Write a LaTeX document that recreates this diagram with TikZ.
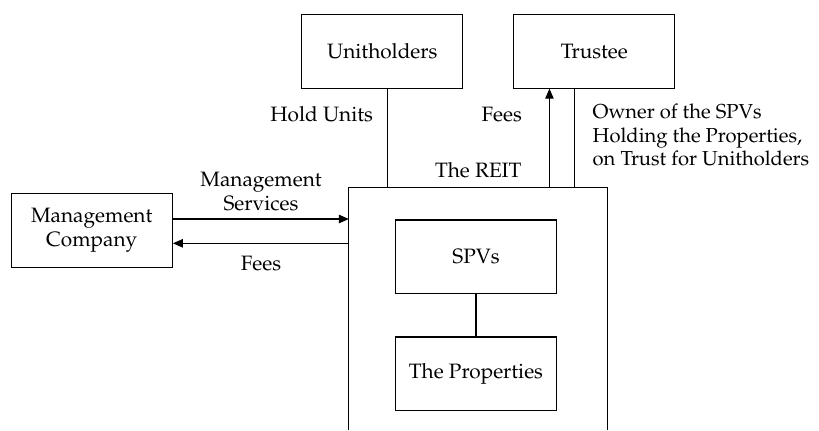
\documentclass[tikz,border=0pt]{standalone}
\usepackage[T1]{fontenc}
\usepackage{mathpazo}
\usetikzlibrary{arrows.meta,calc}
\tikzset{
  box/.style={draw, line width=0.55pt, minimum width=80.6pt, minimum height=36.8pt, inner sep=0pt, align=center},
  lbl/.style={inner sep=0pt, align=center},
  conn/.style={line width=0.55pt},
  arr/.style={line width=0.55pt, -{Triangle[length=5pt,width=4.2pt]}}
}
\begin{document}
\begin{tikzpicture}[x=0.5pt,y=-0.5pt,font=\fontsize{10.4}{11.8}\selectfont]
\useasboundingbox (0,0) rectangle (819,430);
\node[box] (unit) at (382.3,51.3) {Unitholders};
\node[box] (trust) at (594.3,51.3) {Trustee};
\node[box] (mc) at (91.7,230.3) {Management\\Company};
\node[inner sep=0pt, minimum width=129pt, minimum height=121.15pt] (reit) at (478.3,308.85) {};
\draw[conn] (reit.south west) -- (reit.north west) -- (reit.north east) -- (reit.south east);
\node[box] (spv) at (476,256.8) {SPVs};
\node[box] (prop) at (476,373.8) {The Properties};
% connectors
\draw[conn] (spv) -- (prop);
\draw[conn] ([xshift=2.7pt]unit.south) -- ([xshift=2.7pt]unit.south |- reit.north);
\draw[arr] ([xshift=18.15pt]trust.south west |- reit.north) -- ([xshift=18.15pt]trust.south west);
\draw[conn] ([xshift=30.8pt]trust.south west) -- ([xshift=30.8pt]trust.south west |- reit.north);
\draw[arr] ([yshift=5.65pt]mc.east) -- ([yshift=5.65pt]mc.east -| reit.west);
\draw[arr] ([yshift=-6.5pt]mc.east -| reit.west) -- ([yshift=-6.5pt]mc.east);
% labels
\node[lbl] (ms) at (261,191.3) {Management\\Services};
\node[lbl] (fees1) at (261,263.3) {Fees};
\node[lbl] (hu) at (321.7,114) {Hold Units};
\node[lbl] (fees2) at (501.7,115) {Fees};
\node[lbl] (rl) at (478.3,170) {The REIT};
\node[lbl, anchor=west, align=left, font=\fontsize{10.1}{11.8}\selectfont] (own) at (592.3,135) {Owner of the SPVs\\Holding the Properties,\\on Trust for Unitholders};
\end{tikzpicture}
\end{document}
